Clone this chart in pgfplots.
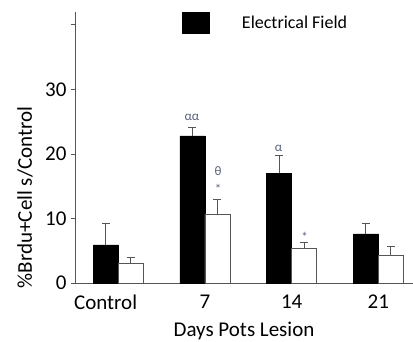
\documentclass[border=0pt]{standalone}
\usepackage{fontspec}
\setmainfont{Carlito}
\usepackage{pgfplots}
\pgfplotsset{compat=1.18}
\definecolor{axisgray}{HTML}{555555}
\definecolor{annot}{HTML}{56627A}
\begin{document}
\begin{tikzpicture}
\begin{axis}[
  at={(0,0)}, anchor=south west,
  scale only axis, width=338pt, height=271pt,
  xmin=-0.5, xmax=3.4, ymin=0, ymax=42,
  axis x line*=bottom, axis y line*=left,
  axis line style={-, draw=axisgray, line width=0.9pt},
  xtick={-0.147,1,2,3}, xticklabels={Control,7,14,21},
  major x tick style={draw=none},
  extra x ticks={0.5,1.5,2.5}, extra x tick labels={},
  extra x tick style={major tick length=4pt, tick style={draw=axisgray, line width=0.9pt}},
  ytick={0,10,20,30,40}, yticklabels={0,10,20,30,},
  tick align=outside, major tick length=4pt,
  tick style={draw=axisgray, line width=0.9pt},
  /pgf/number format/assume math mode=true,
  tick label style={font=\fontsize{21}{24}\selectfont, text=black},
  xticklabel style={yshift=-4pt},
  yticklabel style={xshift=-1pt},
  xlabel={Days Pots Lesion},
  xlabel style={font=\fontsize{21}{24}\selectfont, at={(axis description cs:0.5,0)}, anchor=north, yshift=-36pt},
  ylabel={\%Brdu+Cell s/Control},
  ylabel style={font=\fontsize{21}{24}\selectfont, at={(axis description cs:-0.148,0.316)}, anchor=center, rotate=0},
  ybar, bar width=25pt,
  clip=false,
  error bars/y dir=plus, error bars/y explicit,
  error bars/error mark options={rotate=90, mark size=4pt, line width=0.9pt, draw=axisgray},
  error bars/error bar style={line width=0.9pt, draw=axisgray},
  legend style={draw=none, fill=none, at={(axis cs:0.73,40.3)}, anchor=west,
    font=\fontsize{18}{20}\selectfont, inner sep=0pt},
  legend image code/.code={\fill[black] (0pt,-10.5pt) rectangle (27pt,10.5pt); \path[draw=none,fill=none] (0pt,0pt) -- (58pt,0pt);},
]
\addplot[fill=black, draw=black, bar shift=-12.5pt] table[x=x, y=y, y error plus=e] {
x y e
0 5.9 3.4
1 22.8 1.3
2 17.0 2.7
3 7.6 1.7
};
\addlegendentry{Electrical Field}
\addplot[fill=white, draw=axisgray, line width=0.9pt, bar shift=12.5pt, forget plot] table[x=x, y=y, y error plus=e] {
x y e
0 3.1 0.9
1 10.7 2.3
2 5.4 0.9
3 4.3 1.3
};
\node[text=annot, font=\fontsize{13}{15}\selectfont] at (axis cs:0.85,25.7) {αα};
\node[text=annot, font=\fontsize{13}{15}\selectfont] at (axis cs:1.15,17.4) {θ};
\node[text=annot, font=\fontsize{13}{15}\selectfont] at (axis cs:1.15,14.6) {*};
\node[text=annot, font=\fontsize{13}{15}\selectfont] at (axis cs:1.85,20.9) {α};
\node[text=annot, font=\fontsize{13}{15}\selectfont] at (axis cs:2.15,7.1) {*};
\end{axis}
\pgfresetboundingbox
\path[use as bounding box] (-75pt,-58pt) rectangle (338pt,283pt);
\end{tikzpicture}
\end{document}
